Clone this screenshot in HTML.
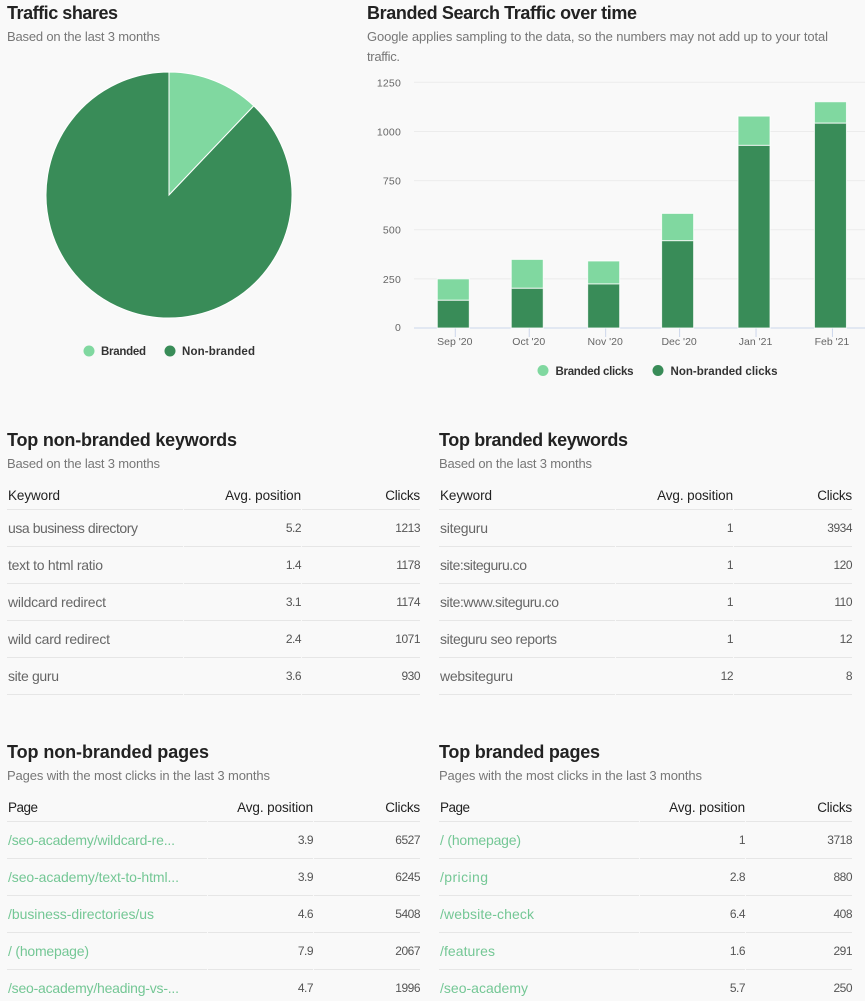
<!DOCTYPE html>
<html lang="en">
<head>
<meta charset="utf-8">
<title>Branded traffic report</title>
<style>
html{margin:0;padding:0;background:#f9f9f9;width:865px;height:1001px;overflow:hidden;}
body{margin:0;padding:0;background:#f9f9f9;position:relative;width:865px;height:1001px;overflow:hidden;font-family:"Liberation Sans",sans-serif;color:#666;}
.title{position:absolute;margin:0;font-size:18px;line-height:22px;font-weight:700;color:#222;white-space:nowrap;}
.sub{position:absolute;margin:0;font-size:13px;line-height:20px;color:#777;white-space:nowrap;}
svg{position:absolute;left:0;top:0;}
table{position:absolute;border-collapse:separate;border-spacing:1px 0;table-layout:fixed;font-size:14px;}
th{height:27px;padding:1px 0 0 0;border-bottom:1px solid #e6e6e6;font-weight:400;color:#222;text-align:right;font-size:13.5px;vertical-align:middle;box-sizing:content-box;}
th:first-child,td:first-child{text-align:left;padding-left:1px;}
td{height:36px;padding:0;border-bottom:1px solid #e6e6e6;text-align:right;white-space:nowrap;vertical-align:middle;}
td.n{font-size:12px;letter-spacing:-.5px;color:#555;}
a{color:#74c795;text-decoration:none;}
</style>
</head>
<body>

<h2 class="title" style="left:7px;top:2px"><span data-fit="111">Traffic shares</span></h2>
<p class="sub" style="left:7px;top:27px"><span data-fit="153">Based on the last 3 months</span></p>

<h2 class="title" style="left:367px;top:2px"><span data-fit="270">Branded Search Traffic over time</span></h2>
<p class="sub" style="left:367px;top:27px"><span data-fit="461">Google applies sampling to the data, so the numbers may not add up to your total</span></p>
<p class="sub" style="left:367px;top:47px"><span data-fit="33">traffic.</span></p>

<svg id="pie-chart" width="360" height="380" viewBox="0 0 360 380"></svg>
<svg id="bar-chart" style="left:360px" width="505" height="390" viewBox="360 0 505 390"></svg>

<!-- Top non-branded keywords -->
<h2 class="title" style="left:7px;top:429px"><span data-fit="230">Top non-branded keywords</span></h2>
<p class="sub" style="left:7px;top:454px"><span data-fit="153">Based on the last 3 months</span></p>
<table style="left:6px;top:481px;width:415px">
<colgroup><col style="width:176px"><col style="width:117px"><col style="width:118px"></colgroup>
<tr><th><span data-fit="52">Keyword</span></th><th><span data-fit="76">Avg. position</span></th><th><span data-fit="35">Clicks</span></th></tr>
<tr><td><span data-fit="130">usa business directory</span></td><td class="n">5.2</td><td class="n">1213</td></tr>
<tr><td><span data-fit="95">text to html ratio</span></td><td class="n">1.4</td><td class="n">1178</td></tr>
<tr><td><span data-fit="98">wildcard redirect</span></td><td class="n">3.1</td><td class="n">1174</td></tr>
<tr><td><span data-fit="102">wild card redirect</span></td><td class="n">2.4</td><td class="n">1071</td></tr>
<tr><td><span data-fit="51">site guru</span></td><td class="n">3.6</td><td class="n">930</td></tr>
</table>

<!-- Top branded keywords -->
<h2 class="title" style="left:439px;top:429px"><span data-fit="189">Top branded keywords</span></h2>
<p class="sub" style="left:439px;top:454px"><span data-fit="153">Based on the last 3 months</span></p>
<table style="left:438px;top:481px;width:415px">
<colgroup><col style="width:176px"><col style="width:117px"><col style="width:118px"></colgroup>
<tr><th><span data-fit="52">Keyword</span></th><th><span data-fit="76">Avg. position</span></th><th><span data-fit="35">Clicks</span></th></tr>
<tr><td><span data-fit="48">siteguru</span></td><td class="n">1</td><td class="n">3934</td></tr>
<tr><td><span data-fit="87">site:siteguru.co</span></td><td class="n">1</td><td class="n">120</td></tr>
<tr><td><span data-fit="119">site:www.siteguru.co</span></td><td class="n">1</td><td class="n">110</td></tr>
<tr><td><span data-fit="117">siteguru seo reports</span></td><td class="n">1</td><td class="n">12</td></tr>
<tr><td><span data-fit="73">websiteguru</span></td><td class="n">12</td><td class="n">8</td></tr>
</table>

<!-- Top non-branded pages -->
<h2 class="title" style="left:7px;top:741px"><span data-fit="202">Top non-branded pages</span></h2>
<p class="sub" style="left:7px;top:766px"><span data-fit="263">Pages with the most clicks in the last 3 months</span></p>
<table style="left:6px;top:793px;width:415px">
<colgroup><col style="width:200px"><col style="width:105px"><col style="width:106px"></colgroup>
<tr><th><span data-fit="30">Page</span></th><th><span data-fit="76">Avg. position</span></th><th><span data-fit="35">Clicks</span></th></tr>
<tr><td><a href="#"><span data-fit="167">/seo-academy/wildcard-re...</span></a></td><td class="n">3.9</td><td class="n">6527</td></tr>
<tr><td><a href="#"><span data-fit="171">/seo-academy/text-to-html...</span></a></td><td class="n">3.9</td><td class="n">6245</td></tr>
<tr><td><a href="#"><span data-fit="146">/business-directories/us</span></a></td><td class="n">4.6</td><td class="n">5408</td></tr>
<tr><td><a href="#"><span data-fit="81">/ (homepage)</span></a></td><td class="n">7.9</td><td class="n">2067</td></tr>
<tr><td><a href="#"><span data-fit="171">/seo-academy/heading-vs-...</span></a></td><td class="n">4.7</td><td class="n">1996</td></tr>
</table>

<!-- Top branded pages -->
<h2 class="title" style="left:439px;top:741px"><span data-fit="161">Top branded pages</span></h2>
<p class="sub" style="left:439px;top:766px"><span data-fit="263">Pages with the most clicks in the last 3 months</span></p>
<table style="left:438px;top:793px;width:415px">
<colgroup><col style="width:200px"><col style="width:105px"><col style="width:106px"></colgroup>
<tr><th><span data-fit="30">Page</span></th><th><span data-fit="76">Avg. position</span></th><th><span data-fit="35">Clicks</span></th></tr>
<tr><td><a href="#"><span data-fit="81">/ (homepage)</span></a></td><td class="n">1</td><td class="n">3718</td></tr>
<tr><td><a href="#"><span data-fit="48">/pricing</span></a></td><td class="n">2.8</td><td class="n">880</td></tr>
<tr><td><a href="#"><span data-fit="94">/website-check</span></a></td><td class="n">6.4</td><td class="n">408</td></tr>
<tr><td><a href="#"><span data-fit="55">/features</span></a></td><td class="n">1.6</td><td class="n">291</td></tr>
<tr><td><a href="#"><span data-fit="88">/seo-academy</span></a></td><td class="n">5.7</td><td class="n">250</td></tr>
</table>

<script>
// Pie data (percent of traffic)
var pieLabels = ["Branded", "Non-branded"];
var pieValues = [12.1, 87.9];

// Stacked bar data
var barMonths = ["2020-09-01", "2020-10-01", "2020-11-01", "2020-12-01", "2021-01-01", "2021-02-01"];
var barLabels = ["Sep '20", "Oct '20", "Nov '20", "Dec '20", "Jan '21", "Feb '21"];
var brandedClicks = [109, 147, 117, 139, 149, 109];
var nonBrandedClicks = [141, 202, 224, 444, 929, 1042];
var yTicks = [0, 250, 500, 750, 1000, 1250];

var LIGHT = "#80d8a0", DARK = "#398c58";
var NS = "http://www.w3.org/2000/svg";

function mk(parent, tag, attrs, text) {
  var el = document.createElementNS(NS, tag);
  for (var k in attrs) el.setAttribute(k, attrs[k]);
  if (text !== undefined) el.textContent = text;
  parent.appendChild(el);
  return el;
}

// ---------- Pie ----------
var pieSvg = document.getElementById("pie-chart");
var pieCx = 169, pieCy = 195, pieR = 123;
var pieColors = [LIGHT, DARK];
var pieTotal = pieValues.reduce(function (a, b) { return a + b; }, 0);
function piePoint(share) {
  var a = share * 2 * Math.PI;
  return [pieCx + pieR * Math.sin(a), pieCy - pieR * Math.cos(a)];
}
var pieAcc = 0;
pieValues.forEach(function (v, i) {
  var s = v / pieTotal;
  var p0 = piePoint(pieAcc), p1 = piePoint(pieAcc + s);
  var d = "M" + pieCx + " " + pieCy + "L" + p0[0] + " " + p0[1] +
    "A" + pieR + " " + pieR + " 0 " + (s > 0.5 ? 1 : 0) + " 1 " + p1[0] + " " + p1[1] + "Z";
  var slice = mk(pieSvg, "path", { d: d, fill: pieColors[i], stroke: "#fff", "stroke-width": 1 });
  
  
  pieAcc += s;
});
var pieLegendX = [89, 170], pieLegendTextW = [45, 73];
pieLabels.forEach(function (label, i) {
  var dot = mk(pieSvg, "circle", { cx: pieLegendX[i], cy: 351, r: 5.5, fill: pieColors[i] });
  
  
  var t = mk(pieSvg, "text", { x: pieLegendX[i] + 12, y: 355, "font-size": 11.5, "font-weight": 700, fill: "#333",
    textLength: pieLegendTextW[i], lengthAdjust: "spacing" }, label);
  
  
});

// ---------- Bars ----------
var barSvg = document.getElementById("bar-chart");
var plotLeft = 414, plotRight = 865, y0 = 328, yPerUnit = 245.7 / 1250;
function yScale(v) { return y0 - v * yPerUnit; }
var firstDay = Date.parse(barMonths[0]);
function xScale(month) {
  var days = (Date.parse(month) - firstDay) / 86400000;
  return 455.3 + days * 2.465;
}
yTicks.forEach(function (v) {
  var y = yScale(v);
  if (v > 0) {
    var g = mk(barSvg, "line", { x1: plotLeft, x2: plotRight, y1: y, y2: y, stroke: "#ececec", "stroke-width": 1 });
    
    
  }
  var t = mk(barSvg, "text", { x: 401, y: y + (v > 0 ? 4 : 3), "text-anchor": "end", "font-size": 10.5, fill: "#666", "letter-spacing": 0.2 }, String(v));
  
  
});
var barW = 32;
barMonths.forEach(function (m, i) {
  var cx = xScale(m);
  var tick = mk(barSvg, "line", { x1: cx, x2: cx, y1: y0, y2: y0 + 9, stroke: "#ccd6eb", "stroke-width": 1 });
  
  
  var lab = mk(barSvg, "text", { x: cx - 0.5, y: 345, "text-anchor": "middle", "font-size": 10.5, fill: "#666" }, barLabels[i]);
  
  
});
var axis = mk(barSvg, "line", { x1: plotLeft, x2: plotRight, y1: y0, y2: y0, stroke: "#ccd6eb", "stroke-width": 1 });


barMonths.forEach(function (m, i) {
  var x = xScale(m) - 2 - barW / 2;
  var nb = nonBrandedClicks[i], br = brandedClicks[i];
  var yNb = yScale(nb), yTop = yScale(nb + br);
  var r1 = mk(barSvg, "rect", { x: x, y: yTop, width: barW, height: yNb - yTop, fill: LIGHT, stroke: "#fff", "stroke-width": 1, "stroke-opacity": 0.8 });
  
  
  var r2 = mk(barSvg, "rect", { x: x, y: yNb, width: barW, height: y0 - yNb, fill: DARK, stroke: "#fff", "stroke-width": 1, "stroke-opacity": 0.8 });
  
  
});
var barLegendLabels = ["Branded clicks", "Non-branded clicks"];
var barLegendX = [543, 658], barLegendW = [78, 107], barLegendColors = [LIGHT, DARK];
barLegendLabels.forEach(function (label, i) {
  var dot = mk(barSvg, "circle", { cx: barLegendX[i], cy: 370.5, r: 5.5, fill: barLegendColors[i] });
  
  
  var t = mk(barSvg, "text", { x: barLegendX[i] + 12.5, y: 375, "font-size": 11.5, "font-weight": 700, fill: "#333",
    textLength: barLegendW[i], lengthAdjust: "spacing" }, label);
  
  
});

// ---------- Fit text widths to the layout ----------
document.querySelectorAll("[data-fit]").forEach(function (s) {
  var target = parseFloat(s.getAttribute("data-fit"));
  var w = s.getBoundingClientRect().width;
  var n = s.textContent.length;
  if (n > 1) s.style.letterSpacing = ((target - w) / (n - 1)).toFixed(3) + "px";
});
</script>
</body>
</html>
